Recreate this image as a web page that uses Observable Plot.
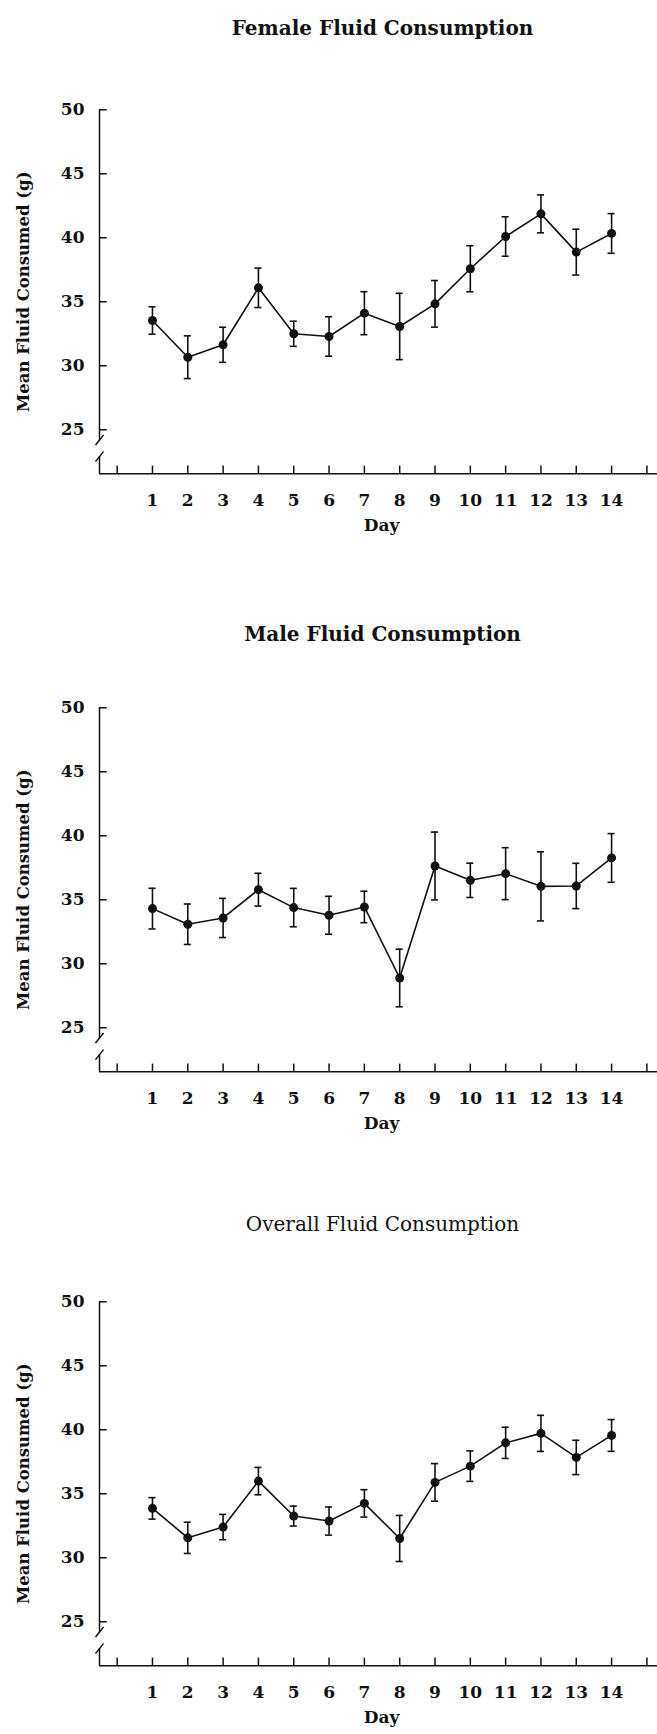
<!DOCTYPE html>
<html>
<head>
<meta charset="utf-8">
<script src="https://cdn.jsdelivr.net/npm/d3@7"></script>
<script src="https://cdn.jsdelivr.net/npm/@observablehq/plot@0.6"></script>
<style>
  html, body { margin: 0; padding: 0; background: #fff; }
  #chart { width: 657px; height: 1734px; background: #fff; }
  #chart svg { display: block; overflow: visible; }
</style>
</head>
<body>
<div id="chart"></div>
<script>
// ---- data ----
const days = [1, 2, 3, 4, 5, 6, 7, 8, 9, 10, 11, 12, 13, 14];

const femaleMean = [33.54, 30.67, 31.64, 36.09, 32.50, 32.29, 34.11, 33.07, 34.84, 37.58, 40.10, 41.87, 38.88, 40.34];
const femaleSem  = [1.07, 1.67, 1.37, 1.54, 0.98, 1.54, 1.68, 2.59, 1.82, 1.80, 1.54, 1.48, 1.79, 1.55];

const maleMean = [34.31, 33.09, 33.58, 35.79, 34.39, 33.79, 34.44, 28.89, 37.64, 36.52, 37.04, 36.05, 36.08, 38.27];
const maleSem  = [1.59, 1.58, 1.53, 1.28, 1.50, 1.48, 1.23, 2.25, 2.65, 1.34, 2.03, 2.70, 1.77, 1.90];

const overallMean = [33.86, 31.56, 32.40, 35.99, 33.26, 32.87, 34.25, 31.51, 35.89, 37.16, 38.98, 39.72, 37.84, 39.56];
const overallSem  = [0.84, 1.22, 0.99, 1.07, 0.78, 1.10, 1.07, 1.80, 1.47, 1.19, 1.22, 1.41, 1.34, 1.24];

const titles = ["Female Fluid Consumption", "Male Fluid Consumption", "Overall Fluid Consumption"];
const yLabel = "Mean Fluid Consumed (g)";
const xLabel = "Day";
const yTicks = [25, 30, 35, 40, 45, 50];
const xTickMarks = [0, 1, 2, 3, 4, 5, 6, 7, 8, 9, 10, 11, 12, 13, 14, 15];
const xTickLabels = days;

// scale extents & axis break (data units)
const yMin = 21.56, yMax = 50;
const xLo = -0.5, xHi = 15.3;
const breakValues = [24.2, 22.9];

// slash symbol for the axis break
const slash = {
  draw(ctx) { ctx.moveTo(-4, 5); ctx.lineTo(4, -5); }
};

function panel(title, means, sems, height, titleDy, titleWeight) {
  const data = days.map((d, i) => ({day: d, mean: means[i], lo: means[i] - sems[i], hi: means[i] + sems[i]}));
  const axisPx = 473.3;
  return Plot.plot({
    width: 657,
    height,
    marginTop: 109.3,
    marginBottom: height - axisPx,
    marginLeft: 99,
    marginRight: 0,
    style: {fontFamily: "DejaVu Serif", fontSize: "17px", fontWeight: "bold", color: "#111", background: "white", overflow: "visible"},
    x: {domain: [xLo, xHi], axis: null},
    y: {domain: [yMin, yMax], ticks: yTicks, tickSize: 0, tickPadding: 15, tickFormat: d => String(d), label: null},
    marks: [
      // title
      Plot.text([title], {frameAnchor: "top", dy: titleDy, dx: 4, fontSize: 20, fontWeight: titleWeight, fill: "#111"}),
      // y label
      Plot.text([yLabel], {frameAnchor: "left", textAnchor: "middle", dx: -76, rotate: -90, fontSize: 16.5, fontWeight: "bold", fill: "#111"}),
      // y axis line with break
      Plot.ruleX([xLo], {y1: breakValues[0], y2: yMax, stroke: "#111", strokeWidth: 1.5}),
      Plot.ruleX([xLo], {y1: yMin, y2: breakValues[1], stroke: "#111", strokeWidth: 1.5}),
      Plot.dot(breakValues, {x: () => xLo, y: d => d, symbol: slash, stroke: "#111", strokeWidth: 1.5, fill: "none"}),
      // y tick marks (inward)
      Plot.ruleY(yTicks, {x1: xLo, x2: xLo + 0.22, stroke: "#111", strokeWidth: 1.5}),
      // x axis line & ticks (upward)
      Plot.ruleY([yMin], {stroke: "#111", strokeWidth: 1.5}),
      Plot.ruleX(xTickMarks, {y1: yMin, y2: yMin + 0.6, stroke: "#111", strokeWidth: 1.5}),
      // x tick labels
      Plot.text(xTickLabels, {x: d => d, y: () => yMin, dy: 27, fontSize: 17, fontWeight: "bold", fill: "#111"}),
      // x label
      Plot.text([xLabel], {frameAnchor: "bottom", dy: 57, dx: 3, fontSize: 17, fontWeight: "bold", fill: "#111"}),
      // error bars
      Plot.ruleX(data, {x: "day", y1: "lo", y2: "hi", stroke: "#111", strokeWidth: 1.6}),
      Plot.ruleY(data, {y: "hi", x1: d => d.day - 0.1, x2: d => d.day + 0.1, stroke: "#111", strokeWidth: 1.6}),
      Plot.ruleY(data, {y: "lo", x1: d => d.day - 0.1, x2: d => d.day + 0.1, stroke: "#111", strokeWidth: 1.6}),
      // line & points
      Plot.line(data, {x: "day", y: "mean", stroke: "#111", strokeWidth: 1.6}),
      Plot.dot(data, {x: "day", y: "mean", r: 4.5, fill: "#111", stroke: "none"})
    ]
  });
}

const chart = document.getElementById("chart");
chart.append(panel(titles[0], femaleMean, femaleSem, 598, -89, "bold"));
chart.append(panel(titles[1], maleMean, maleSem, 594, -81, "bold"));
chart.append(panel(titles[2], overallMean, overallSem, 542, -85, "normal"));
</script>
</body>
</html>
